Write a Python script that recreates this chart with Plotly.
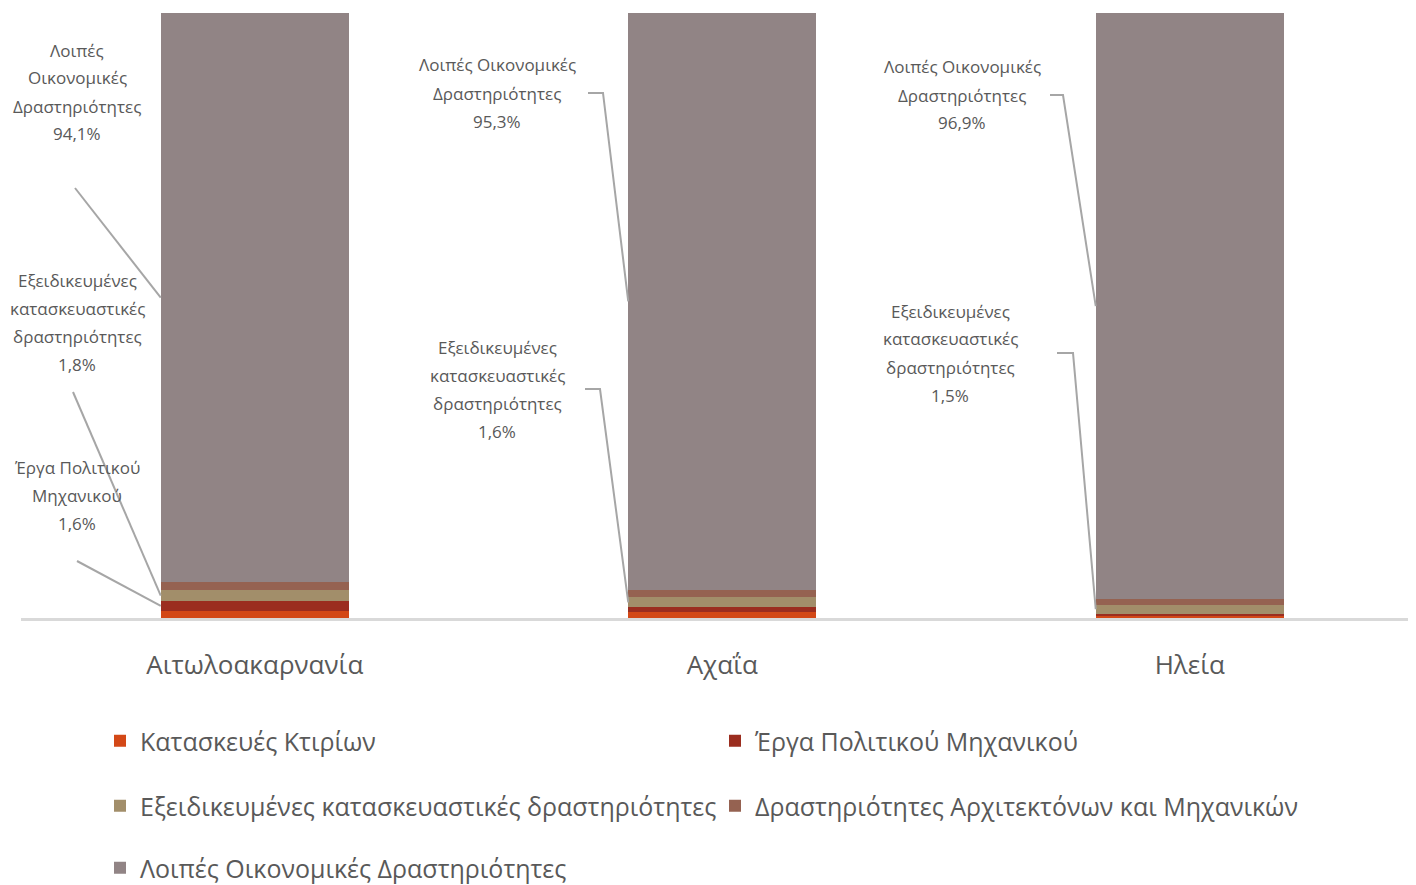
import plotly.graph_objects as go

# ---------------- data ----------------
categories = ["Αιτωλοακαρνανία", "Αχαΐα", "Ηλεία"]
series_names = [
    "Κατασκευές Κτιρίων",
    "Έργα Πολιτικού Μηχανικού",
    "Εξειδικευμένες κατασκευαστικές δραστηριότητες",
    "Δραστηριότητες Αρχιτεκτόνων και Μηχανικών",
    "Λοιπές Οικονομικές Δραστηριότητες",
]
kataskeves_ktirion = [1.2, 1.0, 0.4]
erga_politikou = [1.6, 0.8, 0.3]
exeidikevmenes = [1.8, 1.6, 1.5]
architektones = [1.3, 1.3, 0.9]
loipes = [94.1, 95.3, 96.9]
series_values = [kataskeves_ktirion, erga_politikou, exeidikevmenes, architektones, loipes]
colors = ["#D34817", "#9B2D1F", "#A28E6A", "#956251", "#918485"]

# ---------------- layout geometry ----------------
# page has an 8px body margin; page pixel p -> figure pixel p - OFF
OFF = 8
W, H = 1416 - OFF, 885 - OFF
ML, MT = 21 - OFF, 13 - OFF
BASE = 618 - OFF
MR, MB = 0, H - BASE
PW = W - ML - MR
PH = BASE - MT
CAT_W = 467.5
X0 = -0.5
X1 = X0 + PW / CAT_W
BAR_W = 188 / CAT_W

TXT = "#595959"
LINE = "#A6A6A6"
FONT = "Open Sans"


def px2x(px):
    return X0 + (px - OFF - ML) / CAT_W


def py2y(py):
    return (BASE - (py - OFF)) / PH * 100


def paper_x(px):
    return (px - OFF - ML) / PW


def paper_y(py):
    return (BASE - (py - OFF)) / PH


fig = go.Figure()
legend_of = ["legend", "legend", "legend2", "legend2", "legend3"]
for name, vals, col, lg in zip(series_names, series_values, colors, legend_of):
    fig.add_trace(go.Bar(
        x=list(range(len(categories))), y=vals, name=name,
        marker=dict(color=col, line=dict(width=0)),
        width=BAR_W, legend=lg, hoverinfo="name+y",
    ))

# ---------------- data labels with leader lines ----------------
# (category index, series index, name lines, text centre x px, first line y px, leader path px)
labels = [
    (0, 4, ["Λοιπές", "Οικονομικές", "Δραστηριότητες"], 77, 50, [(75, 188)]),
    (0, 2, ["Εξειδικευμένες", "κατασκευαστικές", "δραστηριότητες"], 77, 280, [(73, 392)]),
    (0, 1, ["Έργα Πολιτικού", "Μηχανικού"], 77, 467, [(77, 561)]),
    (1, 4, ["Λοιπές Οικονομικές", "Δραστηριότητες"], 497, 65, [(588, 93), (603, 93)]),
    (1, 2, ["Εξειδικευμένες", "κατασκευαστικές", "δραστηριότητες"], 497, 347, [(585, 389), (600, 389)]),
    (2, 4, ["Λοιπές Οικονομικές", "Δραστηριότητες"], 962, 67, [(1050, 95), (1063, 95)]),
    (2, 2, ["Εξειδικευμένες", "κατασκευαστικές", "δραστηριότητες"], 950, 311, [(1057, 353), (1073, 353)]),
]
LINE_H = 28
annotations = []
shapes = []
for ci, si, lines, cx, y0, path in labels:
    val = series_values[si][ci]
    below = sum(series_values[k][ci] for k in range(si))
    mid = below + val / 2
    txt_lines = lines + [f"{val:.1f}".replace(".", ",") + "%"]
    for j, t in enumerate(txt_lines):
        annotations.append(dict(
            x=paper_x(cx), y=paper_y(y0 + j * LINE_H), xref="paper", yref="paper",
            text=t, showarrow=False, xanchor="center", yanchor="middle",
            font=dict(family=FONT, size=17, color=TXT),
        ))
    pts = [(px2x(px), py2y(py)) for px, py in path] + [(ci - BAR_W / 2, mid)]
    d = "M " + " L ".join(f"{x},{y}" for x, y in pts)
    shapes.append(dict(type="path", path=d, xref="x", yref="y",
                       line=dict(color=LINE, width=2), layer="above"))

fig.update_layout(
    width=W, height=H,
    margin=dict(l=ML, r=MR, t=MT, b=MB, autoexpand=False),
    paper_bgcolor="white", plot_bgcolor="white",
    barmode="stack",
    font=dict(family=FONT, color=TXT),
    xaxis=dict(
        range=[X0, X1], tickmode="array", tickvals=list(range(len(categories))),
        ticktext=categories, showgrid=False, zeroline=False, showline=True,
        linecolor="#D9D9D9", linewidth=3, ticks="", fixedrange=True,
        tickfont=dict(family=FONT, size=26, color=TXT), ticklabelstandoff=22,
    ),
    yaxis=dict(range=[0, 100], visible=False, showgrid=False, zeroline=False, fixedrange=True),
    annotations=annotations,
    shapes=shapes,
    showlegend=True,
)
leg_common = dict(orientation="h", xanchor="left", yanchor="middle",
                  entrywidth=570, entrywidthmode="pixels",
                  font=dict(family=FONT, size=25, color=TXT),
                  bgcolor="rgba(0,0,0,0)", traceorder="normal", itemclick=False)
fig.update_layout(
    legend=dict(x=paper_x(100), y=paper_y(741), **leg_common),
    legend2=dict(x=paper_x(100), y=paper_y(806), **leg_common),
    legend3=dict(x=paper_x(100), y=paper_y(868), **leg_common),
)

fig.write_html("out.html")
